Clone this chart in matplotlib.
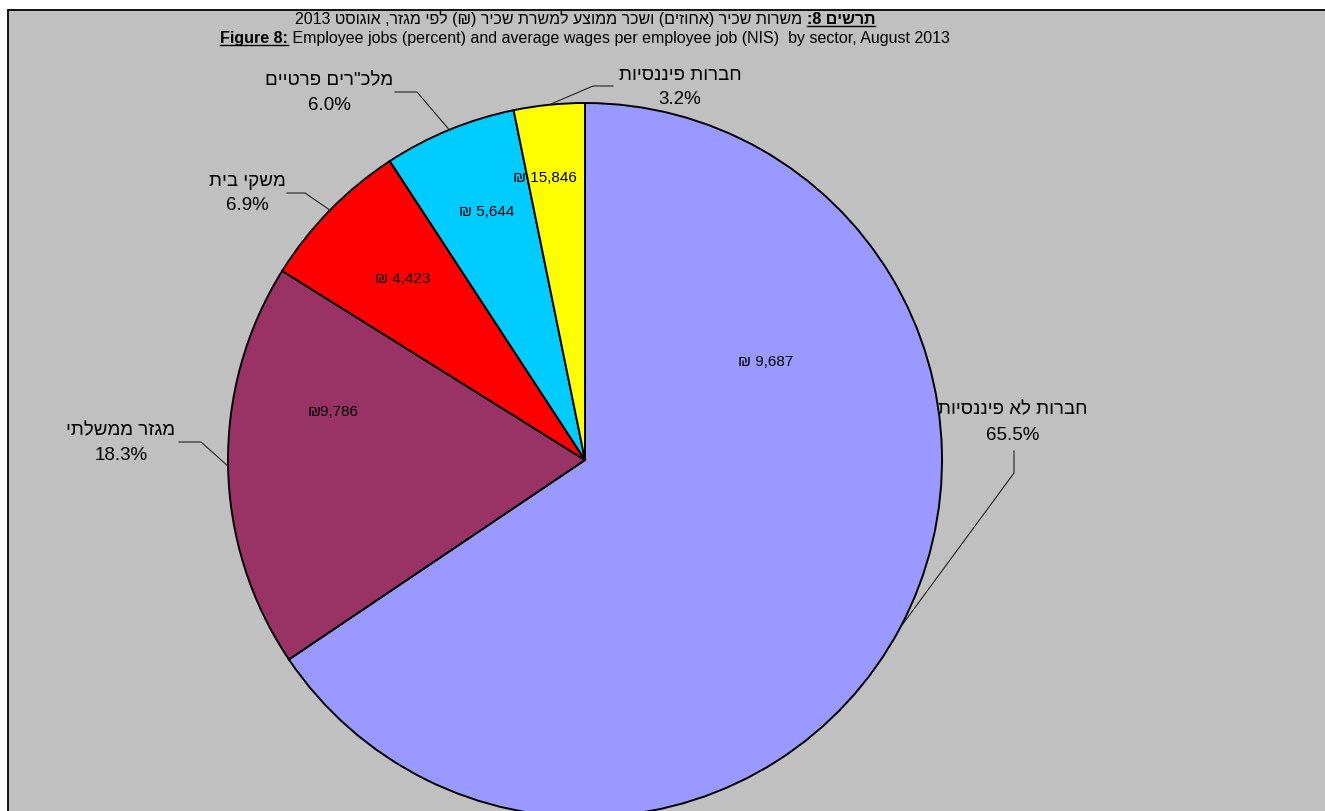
import re
import numpy as np
import matplotlib.pyplot as plt
from matplotlib.patches import Rectangle

FONT = ['Liberation Sans', 'DejaVu Sans']
plt.rcParams['font.family'] = FONT

# data
sectors = ['חברות לא פיננסיות', 'מגזר ממשלתי', 'משקי בית', 'מלכ"רים פרטיים', 'חברות פיננסיות']
jobs_pct = [65.5, 18.3, 6.9, 6.0, 3.2]
wages = [9687, 9786, 4423, 5644, 15846]
wage_gap = [' ', '', ' ', ' ', ' ']
colors = ['#9999FF', '#993366', '#FF0000', '#00CCFF', '#FFFF00']

title_he_bold = 'תרשים 8:'
title_he = ' משרות שכיר (אחוזים) ושכר ממוצע למשרת שכיר (₪) לפי מגזר, אוגוסט 2013'
title_en_bold = 'Figure 8:'
title_en = ' Employee jobs (percent) and average wages per employee job (NIS)  by sector, August 2013'


def vis(s):
    # hebrew -> visual order for left-to-right drawing
    r = s[::-1]
    r = re.sub(r'\d[\d,.]*', lambda m: m.group(0)[::-1], r)
    return r.translate(str.maketrans('()', ')('))


W, H = 1325, 811
fig = plt.figure(figsize=(W / 100, H / 100), dpi=100)
ax = fig.add_axes([0, 0, 1, 1])

# grey chart area with border on top/left
ax.add_patch(Rectangle((8, -20), W + 20, H - 10 + 20, facecolor='#C0C0C0',
                       edgecolor='black', linewidth=1.3, zorder=0))

cx, cy, rad = 585, H - 460, 357
wedges, _ = ax.pie(jobs_pct, colors=colors, startangle=90, counterclock=False,
                   center=(cx, cy), radius=rad, frame=True,
                   wedgeprops=dict(edgecolor='black', linewidth=1.4))
ax.set_xlim(0, W)
ax.set_ylim(0, H)
ax.set_aspect('equal')
ax.axis('off')

# outer labels: (name x, name y) and leader elbows, in pixels from top
label_xy = [(1013, 410), (121, 431), (247, 181), (329, 81), (680, 75)]
leaders = [[(1014, 451), (1014, 473)],
           [(179, 442), (201, 442)],
           [(287, 193), (305, 193)],
           [(395, 92), (417, 92)],
           [(613, 86), (593, 86)]]
wage_xy = [(766, 362), (333, 412), (403, 279), (487, 212), (545, 178)]

for i, w in enumerate(wedges):
    mid = np.deg2rad((w.theta1 + w.theta2) / 2)
    ex, ey = cx + rad * np.cos(mid), cy + rad * np.sin(mid)
    pts = [(x, H - y) for x, y in leaders[i]] + [(ex, ey)]
    ax.plot([p[0] for p in pts], [p[1] for p in pts], color='#222222', lw=0.8, zorder=5)
    lx, ly = label_xy[i]
    ax.text(lx, H - ly, vis(sectors[i]), ha='center', va='center', fontsize=13.5)
    ax.text(lx, H - ly - 25, f'{jobs_pct[i]:.1f}%', ha='center', va='center', fontsize=13.5)
    wx, wy = wage_xy[i]
    ax.text(wx, H - wy, f'₪{wage_gap[i]}{wages[i]:,}', ha='center', va='center', fontsize=11)

# titles: bold underlined part + normal part on each line
renderer = fig.canvas.get_renderer()


def title_line(parts, y):
    texts = []
    for s, bold in parts:
        t = ax.text(0, H - y, s, ha='left', va='baseline', fontsize=11.5,
                    fontweight='bold' if bold else 'normal')
        texts.append((t, bold))
    widths = [t.get_window_extent(renderer).width for t, _ in texts]
    x = cx - sum(widths) / 2
    for (t, bold), wd in zip(texts, widths):
        t.set_x(x)
        if bold:
            ax.plot([x, x + wd], [H - y - 2, H - y - 2], color='black', lw=1.0)
        x += wd


title_line([(vis(title_he), False), (vis(title_he_bold), True)], 24)
title_line([(title_en_bold, True), (title_en, False)], 43)

fig.savefig('out.png', dpi=100)
